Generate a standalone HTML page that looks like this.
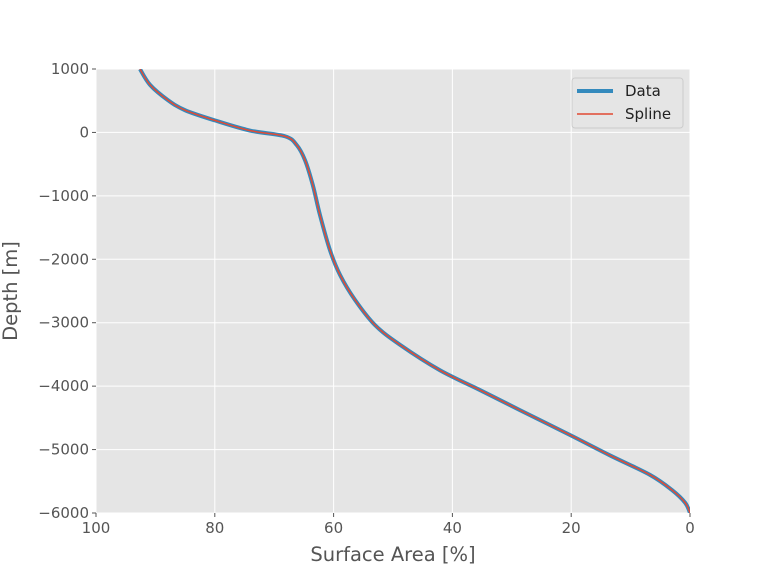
<!DOCTYPE html>
<html><head><meta charset="utf-8"><style>
body{margin:0;background:#fff;font-family:"DejaVu Sans","Liberation Sans",sans-serif}
</style></head><body>
<svg id="chart" width="768" height="576" xmlns="http://www.w3.org/2000/svg" font-family="DejaVu Sans, Liberation Sans, sans-serif">
<defs><clipPath id="clip"><rect x="96" y="69" width="594" height="444"/></clipPath></defs>
<rect x="96" y="69" width="594" height="444" fill="#E5E5E5"/>
<g id="grid"></g><g id="ticks"></g>
<g id="series" clip-path="url(#clip)"></g>
<text x="393" y="561" text-anchor="middle" font-size="19.5" fill="#555">Surface Area [%]</text>
<text transform="translate(17,291) rotate(-90)" text-anchor="middle" font-size="19.5" fill="#555">Depth [m]</text>
<g>
<rect x="572" y="78" width="111" height="50" rx="3" fill="#E5E5E5" stroke="#CCCCCC" stroke-width="1"/>
<line x1="577" y1="91" x2="613" y2="91" stroke="#348ABD" stroke-width="4"/>
<text x="625" y="96" font-size="15" fill="#222">Data</text>
<line x1="577" y1="114" x2="613" y2="114" stroke="#E24A33" stroke-width="1.5"/>
<text x="625" y="119" font-size="15" fill="#222">Spline</text>
</g>
</svg>
<script>
const areaPct=[92.6,90.9,87.9,85,80,74.1,68.2,66.2,64.8,63.5,62.3,60.6,58.9,56.4,53.0,48.8,42.1,35.4,28.6,20.2,13.5,6.7,3.0,0.8,0];
const depthM=[1000,750,510,350,190,30,-60,-200,-440,-830,-1300,-1860,-2250,-2640,-3040,-3350,-3750,-4060,-4380,-4770,-5090,-5400,-5640,-5840,-6000];
const xTicks=[100,80,60,40,20,0];
const yTicks=[1000,0,-1000,-2000,-3000,-4000,-5000,-6000];
const yLabels=["1000","0","\u22121000","\u22122000","\u22123000","\u22124000","\u22125000","\u22126000"];
const NS="http://www.w3.org/2000/svg";
const X0=96,X1=690,Y0=69,Y1=513;
function sx(v){return X0+(100-v)/100*(X1-X0);}
function sy(v){return Y0+(1000-v)/7000*(Y1-Y0);}
function mk(t,a,p){const e=document.createElementNS(NS,t);for(const k in a)e.setAttribute(k,a[k]);p.appendChild(e);return e;}
const grid=document.getElementById('grid'),ticks=document.getElementById('ticks'),series=document.getElementById('series');
xTicks.forEach(v=>{const x=sx(v);
 const g=mk('line',{x1:x,x2:x,y1:Y0,y2:Y1,stroke:'#fff','stroke-width':1},grid);
 
 
 mk('line',{x1:x,x2:x,y1:Y1,y2:Y1+4,stroke:'#555'},ticks);
 const t=mk('text',{x:x,y:Y1+20,'text-anchor':'middle','font-size':15,fill:'#555'},ticks);t.textContent=v;
 
 });
yTicks.forEach((v,i)=>{const y=sy(v);
 const g=mk('line',{x1:X0,x2:X1,y1:y,y2:y,stroke:'#fff','stroke-width':1},grid);
 
 
 mk('line',{x1:X0-4,x2:X0,y1:y,y2:y,stroke:'#555'},ticks);
 const t=mk('text',{x:X0-7,y:y+5,'text-anchor':'end','font-size':15,fill:'#555'},ticks);t.textContent=yLabels[i];
 
 });
function pathD(){let d='';for(let i=0;i<areaPct.length;i++){const x=sx(areaPct[i]),y=sy(depthM[i]);
 if(i===0){d+='M'+x+','+y;continue;}
 const p0=i>1?[sx(areaPct[i-2]),sy(depthM[i-2])]:[sx(areaPct[i-1]),sy(depthM[i-1])];
 const p1=[sx(areaPct[i-1]),sy(depthM[i-1])];const p2=[x,y];
 const p3=i<areaPct.length-1?[sx(areaPct[i+1]),sy(depthM[i+1])]:p2;
 d+=' C'+(p1[0]+(p2[0]-p0[0])/6)+','+(p1[1]+(p2[1]-p0[1])/6)+' '+(p2[0]-(p3[0]-p1[0])/6)+','+(p2[1]-(p3[1]-p1[1])/6)+' '+p2[0]+','+p2[1];}
 return d;}
const d=pathD();
const a=mk('path',{d:d,fill:'none',stroke:'#348ABD','stroke-width':4},series);


const b=mk('path',{d:d,fill:'none',stroke:'#E24A33','stroke-width':1.5},series);


</script>
</body></html>
